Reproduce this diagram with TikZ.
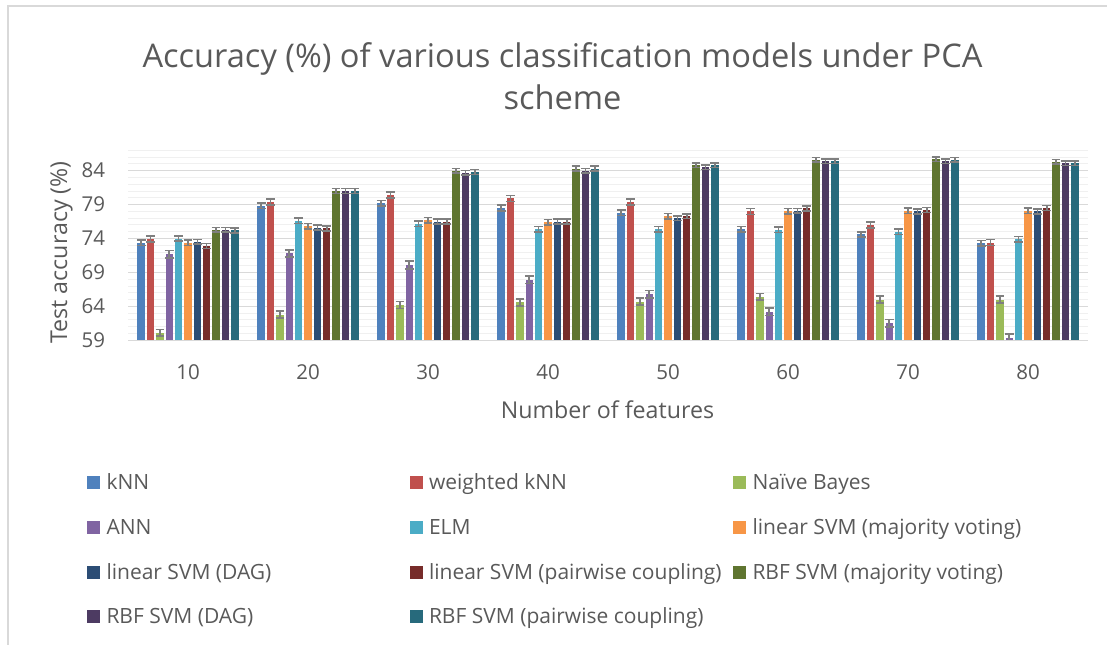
\documentclass[tikz,border=0pt]{standalone}
\usepackage{fontspec}
\setmainfont{Open Sans}
\definecolor{txtgray}{HTML}{595959}
\definecolor{gridmajor}{HTML}{D9D9D9}
\definecolor{gridminor}{HTML}{F0F0F0}
\definecolor{errgray}{HTML}{7F7F7F}
\definecolor{cA}{HTML}{4F81BD}
\definecolor{cB}{HTML}{C0504D}
\definecolor{cC}{HTML}{9BBB59}
\definecolor{cD}{HTML}{8064A2}
\definecolor{cE}{HTML}{4BACC6}
\definecolor{cF}{HTML}{F79646}
\definecolor{cG}{HTML}{2C4D75}
\definecolor{cH}{HTML}{772C2A}
\definecolor{cI}{HTML}{5F7530}
\definecolor{cJ}{HTML}{4D3B62}
\definecolor{cK}{HTML}{276A7C}
\newcommand{\fs}[1]{\fontsize{#1}{#1}\selectfont}
\begin{document}
\begin{tikzpicture}[x=1pt,y=-1pt,
  every node/.style={text=txtgray, inner sep=0pt, outer sep=0pt},
  ticklabel/.style={font=\fs{20.5}},
  axistitle/.style={font=\fs{23.2}},
  legendtext/.style={font=\fs{21}, anchor=base west},
  errbar/.style={draw=errgray, line width=1.6pt},
  frameline/.style={draw=gridmajor, line width=2pt}]
\useasboundingbox (0,0) rectangle (1107,645);

% chart frame
\draw[frameline] (7,6) -- (1107,6);
\draw[frameline] (8,5) -- (8,645);

% title
\node[anchor=base, font=\fs{32.6}] (title1) at (562.5,67) {Accuracy (\%) of various classification models under PCA};
\node[anchor=base, font=\fs{32.6}] (title2) at (562.5,109) {scheme};

% minor gridlines
\foreach \v in {60,...,87} {
  \pgfmathsetmacro\yy{340.3-(\v-59)*6.785}
  \draw[gridminor, line width=1pt] (128,\yy) -- (1088,\yy);
}
% major gridlines and value labels
\foreach \v in {59,64,...,84} {
  \pgfmathsetmacro\yy{340.3-(\v-59)*6.785}
  \draw[gridmajor, line width=1.4pt] (128,\yy) -- (1088,\yy);
  \node[ticklabel, anchor=east] (tick\v) at (105,\yy) {\v};
}

% category labels
\foreach \c [count=\g from 0] in {10,20,...,80} {
  \node[ticklabel] (cat\c) at (188+120*\g,372.5) {\c};
}

% axis titles
\node[axistitle, anchor=base] (xtitle) at (607.5,418) {Number of features};
\node[axistitle, anchor=base, rotate=90] (ytitle) at (67,252.5) {Test accuracy (\%)};

% bars with error bars
\foreach \col/\e/\vals [count=\s from 0] in {
  cA/0.4/{73.4,78.8,79.2,78.5,77.8,75.4,74.6,73.3},
  cB/0.45/{73.9,79.4,80.4,79.9,79.4,78.0,76.0,73.4},
  cC/0.5/{60.1,62.8,64.2,64.6,64.7,65.4,65.0,65.0},
  cD/0.55/{71.7,71.8,70.1,67.9,65.8,63.2,61.5,59.4},
  cE/0.4/{74.0,76.6,76.2,75.4,75.4,75.3,75.0,73.9},
  cF/0.4/{73.4,75.8,76.7,76.4,77.3,78.0,78.1,78.1},
  cG/0.35/{73.5,75.6,76.5,76.5,77.0,78.1,78.0,78.0},
  cH/0.35/{72.9,75.5,76.5,76.5,77.3,78.45,78.2,78.5},
  cI/0.35/{75.3,81.0,84.0,84.3,84.8,85.6,85.7,85.3},
  cJ/0.35/{75.3,81.0,83.7,84.0,84.5,85.4,85.4,85.1},
  cK/0.35/{75.2,81.0,83.8,84.3,84.8,85.4,85.6,85.1}} {
  \foreach \v [count=\g from 0] in \vals {
    \pgfmathsetmacro\xl{128+120*\g+8.5+9.36*\s+0.95}
    \pgfmathsetmacro\xr{\xl+7.45}
    \pgfmathsetmacro\xm{\xl+3.725}
    \pgfmathsetmacro\yt{340.3-(\v-59)*6.785}
    \pgfmathsetmacro\ya{340.3-(\v+\e-59)*6.785}
    \pgfmathsetmacro\yb{min(340.3,340.3-(\v-\e-59)*6.785)}
    \fill[\col] (\xl,340.3) rectangle (\xr,\yt);
    \draw[errbar] (\xm,\ya) -- (\xm,\yb);
    \draw[errbar] (\xl-0.6,\ya) -- (\xr+0.6,\ya);
    \draw[errbar] (\xl-0.6,\yb) -- (\xr+0.6,\yb);
  }
}
% horizontal axis line
\draw[gridmajor, line width=1.6pt] (128,340.3) -- (1088,340.3);

% legend
\foreach \col/\lx/\ly/\name [count=\k] in {
  cA/87/482.7/{kNN},
  cB/409.5/482.7/{weighted kNN},
  cC/733/482.7/{Naïve Bayes},
  cD/87/527.7/{ANN},
  cE/409.5/527.7/{ELM},
  cF/733/527.7/{linear SVM (majority voting)},
  cG/87/572.3/{linear SVM (DAG)},
  cH/409.5/572.3/{linear SVM (pairwise coupling)},
  cI/733/572.3/{RBF SVM (majority voting)},
  cJ/87/616.7/{RBF SVM (DAG)},
  cK/409.5/616.7/{RBF SVM (pairwise coupling)}} {
  \fill[\col] (\lx,\ly-6.6) rectangle (\lx+13,\ly+6.6);
  \node[legendtext] (leg\k) at (\lx+19.5,\ly+7.2) {\name};
}
\end{tikzpicture}
\end{document}
